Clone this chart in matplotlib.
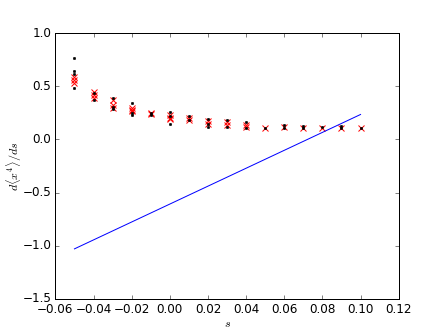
import numpy as np
import matplotlib
matplotlib.use('Agg')
import matplotlib.pyplot as plt

plt.style.use('classic')

# black dots (several samples per s)
black_s = [-0.05, -0.05, -0.05, -0.05,
           -0.04, -0.04,
           -0.03, -0.03, -0.03,
           -0.02, -0.02, -0.02,
           -0.01, -0.01,
           0.00, 0.00, 0.00,
           0.01, 0.01,
           0.02, 0.02, 0.02,
           0.03, 0.03,
           0.04, 0.04,
           0.05,
           0.06, 0.06,
           0.07, 0.07,
           0.08,
           0.09, 0.09,
           0.10]
black_y = [0.77, 0.64, 0.62, 0.48,
           0.44, 0.37,
           0.39, 0.31, 0.29,
           0.34, 0.25, 0.23,
           0.25, 0.23,
           0.26, 0.22, 0.15,
           0.22, 0.18,
           0.19, 0.15, 0.12,
           0.18, 0.12,
           0.16, 0.11,
           0.11,
           0.14, 0.11,
           0.13, 0.11,
           0.12,
           0.13, 0.11,
           0.11]

# red crosses (averages)
red_s = [-0.05, -0.05, -0.05,
         -0.04, -0.04, -0.04,
         -0.03, -0.03, -0.03,
         -0.02, -0.02, -0.02,
         -0.01, -0.01,
         0.00, 0.00, 0.00,
         0.01, 0.01,
         0.02, 0.02,
         0.03, 0.03,
         0.04, 0.04,
         0.05,
         0.06,
         0.07,
         0.08,
         0.09,
         0.10]
red_y = [0.59, 0.56, 0.53,
         0.45, 0.42, 0.39,
         0.37, 0.32, 0.30,
         0.30, 0.28, 0.27,
         0.25, 0.24,
         0.23, 0.20, 0.19,
         0.20, 0.18,
         0.17, 0.15,
         0.16, 0.14,
         0.14, 0.12,
         0.11,
         0.12,
         0.11,
         0.11,
         0.11,
         0.11]

# blue line
line_s = [-0.05, 0.10]
line_y = [-1.03, 0.235]

fig = plt.figure(figsize=(443 / 72, 332 / 72), dpi=72)
ax = fig.add_subplot(111)
ax.plot(red_s, red_y, 'rx', markersize=6, markeredgewidth=1)
ax.plot(black_s, black_y, 'k.', markersize=5)
ax.plot(line_s, line_y, 'b-')
ax.set_xlim(-0.06, 0.12)
ax.set_ylim(-1.5, 1.0)
ax.set_xlabel('$s$', labelpad=1)
ax.set_ylabel(r'$d\langle x^4\rangle/ds$', labelpad=-2)
fig.savefig('out.png', dpi=72)
